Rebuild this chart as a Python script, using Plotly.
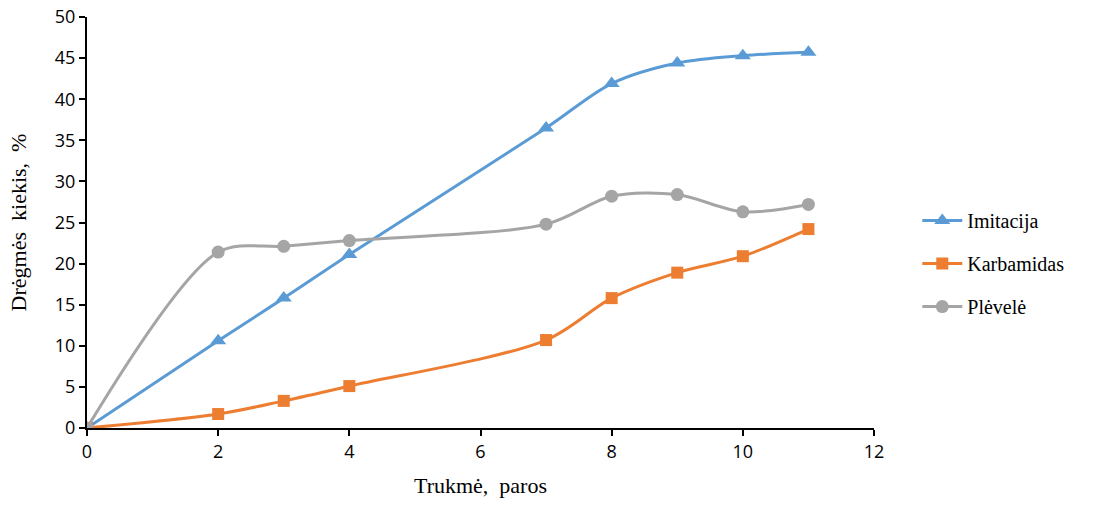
import plotly.graph_objects as go

# Trukmė (paros)
days = [0, 2, 3, 4, 7, 8, 9, 10, 11]

# Drėgmės kiekis, %
imitacija = [0, 10.6, 15.8, 21.1, 36.5, 41.9, 44.4, 45.3, 45.7]
karbamidas = [0, 1.7, 3.3, 5.1, 10.7, 15.8, 18.9, 20.9, 24.2]
plevele = [0, 21.4, 22.1, 22.8, 24.8, 28.2, 28.4, 26.3, 27.2]

series = [
    ("Imitacija", imitacija, "#5B9BD5", "triangle-up", 14),
    ("Karbamidas", karbamidas, "#ED7D31", "square", 12),
    ("Plėvelė", plevele, "#A5A5A5", "circle", 13),
]

x_ticks = [0, 2, 4, 6, 8, 10, 12]
y_ticks = [0, 5, 10, 15, 20, 25, 30, 35, 40, 45, 50]

fig = go.Figure()
for name, vals, color, symbol, msize in series:
    fig.add_trace(go.Scatter(
        x=days, y=vals, name=name, mode="lines+markers",
        legendgroup=name,
        line=dict(color=color, width=3, shape="spline", smoothing=0.9),
        marker=dict(color=color, symbol=symbol, size=msize),
    ))

tick_font = dict(family="Open Sans, Noto Sans, sans-serif", size=18, color="#000")
title_font = dict(family="Liberation Serif, Times New Roman, serif", size=22, color="#000")

fig.update_layout(
    width=1099, height=508,
    margin=dict(l=87, r=225, t=17, b=80),
    paper_bgcolor="white", plot_bgcolor="white",
    showlegend=True,
    legend=dict(
        x=1.055, y=0.40, xanchor="left", yanchor="middle",
        font=dict(family="Liberation Serif, Times New Roman, serif", size=20, color="#000"),
        tracegroupgap=14, itemwidth=40,
    ),
    xaxis=dict(
        range=[0, 12], tickvals=x_ticks, ticktext=[str(v) for v in x_ticks],
        showgrid=False, zeroline=False, showline=True, linecolor="#000", linewidth=2,
        ticks="outside", ticklen=6, tickwidth=1.5, tickcolor="#000",
        tickfont=tick_font, automargin=False,
        title=dict(text="Trukmė,  paros", font=title_font, standoff=16),
    ),
    yaxis=dict(
        range=[0, 50], tickvals=y_ticks, ticktext=[str(v) for v in y_ticks],
        showgrid=False, zeroline=False, showline=True, linecolor="#000", linewidth=2,
        ticks="outside", ticklen=6, tickwidth=1.5, tickcolor="#000",
        tickfont=tick_font, automargin=False,
        title=dict(text="Drėgmės  kiekis,  %", font=title_font, standoff=22),
    ),
)

fig.write_html("out.html")
